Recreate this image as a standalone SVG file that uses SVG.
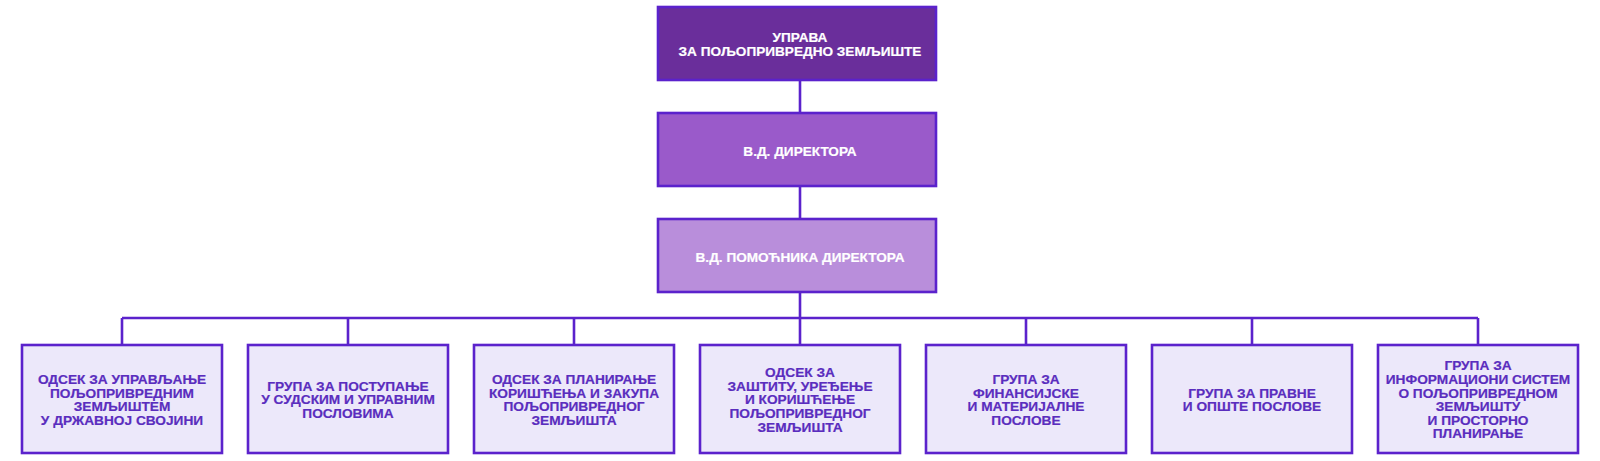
<svg xmlns="http://www.w3.org/2000/svg" width="1600" height="461" viewBox="0 0 1600 461">
<style>
.box{stroke:#5B22CC;stroke-width:2.6}
.t1{fill:#6A2E9B}
.t2{fill:#9A5ACA}
.t3{fill:#B98EDB}
.b{fill:#ECE8FA}
.top{font-family:"Liberation Sans",Arial,sans-serif;font-weight:bold;font-size:13.6px;fill:#FFFFFF;text-anchor:middle;stroke:#FFFFFF;stroke-width:0.2}
.lbl{font-family:"Liberation Sans",Arial,sans-serif;font-weight:bold;font-size:13.7px;fill:#5A2DBE;text-anchor:middle;stroke:#5A2DBE;stroke-width:0.2}
.conn{stroke:#5B22CC;stroke-width:2.6;fill:none}
</style>
<rect width="1600" height="461" fill="#FFFFFF"/>
<g id="connectors">
<path class="conn" d="M800 80V113M800 186V219M800 292V318M122 318H1478M122 318V345M348 318V345M574 318V345M800 318V345M1026 318V345M1252 318V345M1478 318V345"/>
</g>
<g id="uprava">
<rect class="box t1" x="658" y="7" width="278" height="73"/>
<text class="top" y="41.6"><tspan x="800">УПРАВА</tspan><tspan x="800" dy="14">ЗА ПОЉОПРИВРЕДНО ЗЕМЉИШТЕ</tspan></text>
</g>
<g id="direktor">
<rect class="box t2" x="658" y="113" width="278" height="73"/>
<text class="top" x="800" y="155.6">В.Д. ДИРЕКТОРА</text>
</g>
<g id="pomocnik">
<rect class="box t3" x="658" y="219" width="278" height="73"/>
<text class="top" x="800" y="261.6">В.Д. ПОМОЋНИКА ДИРЕКТОРА</text>
</g>
<g id="odsek-upravljanje">
<rect class="box b" x="22" y="345" width="200" height="108"/>
<text class="lbl" y="383.9"><tspan x="122">ОДСЕК ЗА УПРАВЉАЊЕ</tspan><tspan x="122" dy="13.6">ПОЉОПРИВРЕДНИМ</tspan><tspan x="122" dy="13.6">ЗЕМЉИШТЕМ</tspan><tspan x="122" dy="13.6">У ДРЖАВНОЈ СВОЈИНИ</tspan></text>
</g>
<g id="grupa-postupanje">
<rect class="box b" x="248" y="345" width="200" height="108"/>
<text class="lbl" y="390.7"><tspan x="348">ГРУПА ЗА ПОСТУПАЊЕ</tspan><tspan x="348" dy="13.6">У СУДСКИМ И УПРАВНИМ</tspan><tspan x="348" dy="13.6">ПОСЛОВИМА</tspan></text>
</g>
<g id="odsek-planiranje">
<rect class="box b" x="474" y="345" width="200" height="108"/>
<text class="lbl" y="383.9"><tspan x="574">ОДСЕК ЗА ПЛАНИРАЊЕ</tspan><tspan x="574" dy="13.6">КОРИШЋЕЊА И ЗАКУПА</tspan><tspan x="574" dy="13.6">ПОЉОПРИВРЕДНОГ</tspan><tspan x="574" dy="13.6">ЗЕМЉИШТА</tspan></text>
</g>
<g id="odsek-zastita">
<rect class="box b" x="700" y="345" width="200" height="108"/>
<text class="lbl" y="377.1"><tspan x="800">ОДСЕК ЗА</tspan><tspan x="800" dy="13.6">ЗАШТИТУ, УРЕЂЕЊЕ</tspan><tspan x="800" dy="13.6">И КОРИШЋЕЊЕ</tspan><tspan x="800" dy="13.6">ПОЉОПРИВРЕДНОГ</tspan><tspan x="800" dy="13.6">ЗЕМЉИШТА</tspan></text>
</g>
<g id="grupa-finansije">
<rect class="box b" x="926" y="345" width="200" height="108"/>
<text class="lbl" y="383.9"><tspan x="1026">ГРУПА ЗА</tspan><tspan x="1026" dy="13.6">ФИНАНСИЈСКЕ</tspan><tspan x="1026" dy="13.6">И МАТЕРИЈАЛНЕ</tspan><tspan x="1026" dy="13.6">ПОСЛОВЕ</tspan></text>
</g>
<g id="grupa-pravne">
<rect class="box b" x="1152" y="345" width="200" height="108"/>
<text class="lbl" y="397.5"><tspan x="1252">ГРУПА ЗА ПРАВНЕ</tspan><tspan x="1252" dy="13.6">И ОПШТЕ ПОСЛОВЕ</tspan></text>
</g>
<g id="grupa-informacioni">
<rect class="box b" x="1378" y="345" width="200" height="108"/>
<text class="lbl" y="370.3"><tspan x="1478">ГРУПА ЗА</tspan><tspan x="1478" dy="13.6">ИНФОРМАЦИОНИ СИСТЕМ</tspan><tspan x="1478" dy="13.6">О ПОЉОПРИВРЕДНОМ</tspan><tspan x="1478" dy="13.6">ЗЕМЉИШТУ</tspan><tspan x="1478" dy="13.6">И ПРОСТОРНО</tspan><tspan x="1478" dy="13.6">ПЛАНИРАЊЕ</tspan></text>
</g>
</svg>
